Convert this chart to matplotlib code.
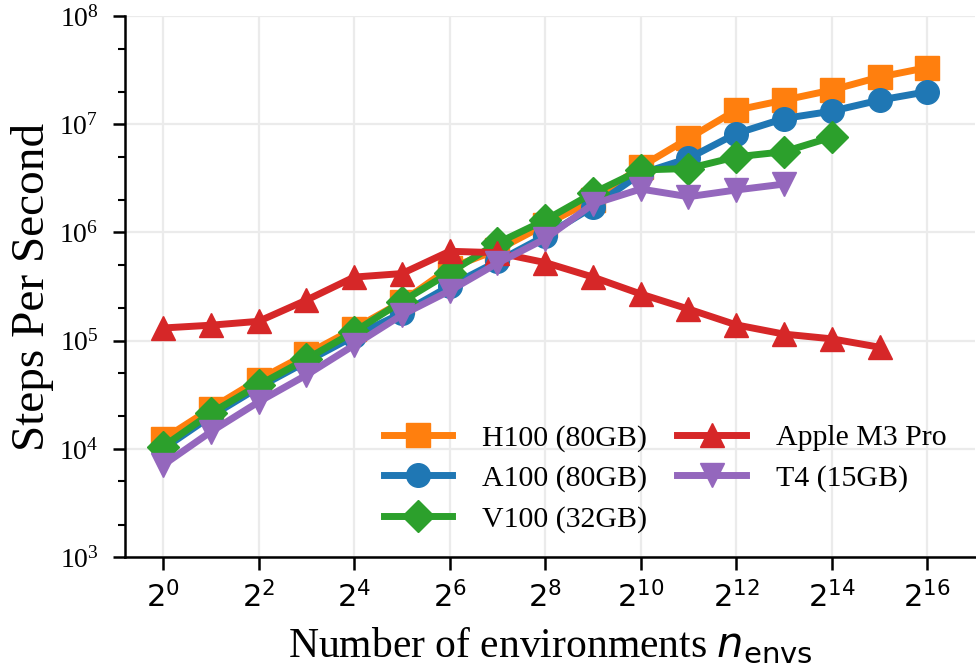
import numpy as np
import matplotlib
matplotlib.use('Agg')
import matplotlib.pyplot as plt
from matplotlib.ticker import LogLocator, FixedLocator, NullLocator

plt.rcParams['font.family'] = ['Liberation Serif', 'DejaVu Serif']
plt.rcParams['mathtext.fontset'] = 'stix'

# number of environments = 2**exp
h100_exp = list(range(0, 17))
h100 = [1.23e4, 2.36e4, 4.37e4, 7.5e4, 1.29e5, 2.29e5, 4.7e5, 6.9e5, 1.18e6,
        2.0e6, 4.05e6, 7.4e6, 1.35e7, 1.67e7, 2.07e7, 2.73e7, 3.34e7]

a100_exp = list(range(0, 17))
a100 = [1.0e4, 2.0e4, 3.7e4, 6.4e4, 1.1e5, 1.8e5, 3.2e5, 5.4e5, 9.3e5,
        1.72e6, 3.5e6, 4.84e6, 8.2e6, 1.13e7, 1.32e7, 1.67e7, 2.0e7]

v100_exp = list(range(0, 15))
v100 = [1.05e4, 2.14e4, 3.89e4, 6.76e4, 1.21e5, 2.3e5, 4.25e5, 7.98e5, 1.3e6,
        2.31e6, 3.78e6, 3.9e6, 5.0e6, 5.57e6, 7.6e6]

m3_exp = list(range(0, 16))
m3 = [1.31e5, 1.39e5, 1.51e5, 2.37e5, 3.87e5, 4.17e5, 6.7e5, 6.5e5, 5.27e5,
      3.87e5, 2.7e5, 1.96e5, 1.40e5, 1.15e5, 1.04e5, 8.7e4]

t4_exp = list(range(0, 14))
t4 = [7.1e3, 1.44e4, 2.72e4, 4.81e4, 9.1e4, 1.73e5, 2.89e5, 5.2e5, 8.75e5,
      1.83e6, 2.52e6, 2.14e6, 2.47e6, 2.8e6]

series = [
    ('H100 (80GB)', h100_exp, h100, '#ff7f0e', 's', 17),
    ('A100 (80GB)', a100_exp, a100, '#1f77b4', 'o', 17),
    ('V100 (32GB)', v100_exp, v100, '#2ca02c', 'D', 16.5),
    ('Apple M3 Pro', m3_exp, m3, '#d62728', '^', 17),
    ('T4 (15GB)', t4_exp, t4, '#9467bd', 'v', 17),
]

fig = plt.figure(figsize=(9.76, 6.68), dpi=100)
ax = fig.add_axes([0.128, 0.166, 0.871, 0.810])

for name, ex, vals, col, mk, ms in series:
    n = 2.0 ** np.array(ex)
    ax.plot(n, vals, color=col, marker=mk, lw=5, ms=ms, label=name)

ax.set_xscale('log', base=2)
ax.set_yscale('log')
ax.set_xlim(2 ** -0.8, 2 ** 17.0)
ax.set_ylim(1e3, 1e8)

xt = 2.0 ** np.arange(0, 17, 2)
ax.xaxis.set_major_locator(FixedLocator(xt))
ax.xaxis.set_minor_locator(NullLocator())
ax.set_xticklabels(['$2^{%d}$' % k for k in range(0, 17, 2)],
                   math_fontfamily='dejavusans', fontsize=22)
ax.yaxis.set_major_locator(LogLocator(base=10, numticks=10))
ax.yaxis.set_minor_locator(LogLocator(base=10, subs=[2, 5], numticks=10))
ax.yaxis.set_minor_formatter(plt.NullFormatter())

ax.grid(True, which='major', color='#ebebeb', lw=1.6)
ax.set_axisbelow(True)
for s in ['top', 'right']:
    ax.spines[s].set_visible(False)
for s in ['left', 'bottom']:
    ax.spines[s].set_linewidth(1.8)
ax.tick_params(which='major', length=9, width=1.8)
ax.tick_params(axis='y', which='major', labelsize=20, pad=10)
ax.tick_params(axis='x', which='major', labelsize=22, pad=9)
ax.tick_params(which='minor', length=5, width=1.5)

ax.set_ylabel('Steps Per Second', fontsize=34, labelpad=4)
ax.set_xlabel(r'Number of environments $n_{\mathrm{envs}}$', fontsize=30,
              math_fontfamily='dejavusans', labelpad=8)

ax.legend(loc='lower right', ncol=2, frameon=False, fontsize=21.5,
          handlelength=2.3, handletextpad=1.0, columnspacing=1.0,
          labelspacing=0.45, bbox_to_anchor=(0.998, -0.005))

fig.savefig('out.png', dpi=100)
